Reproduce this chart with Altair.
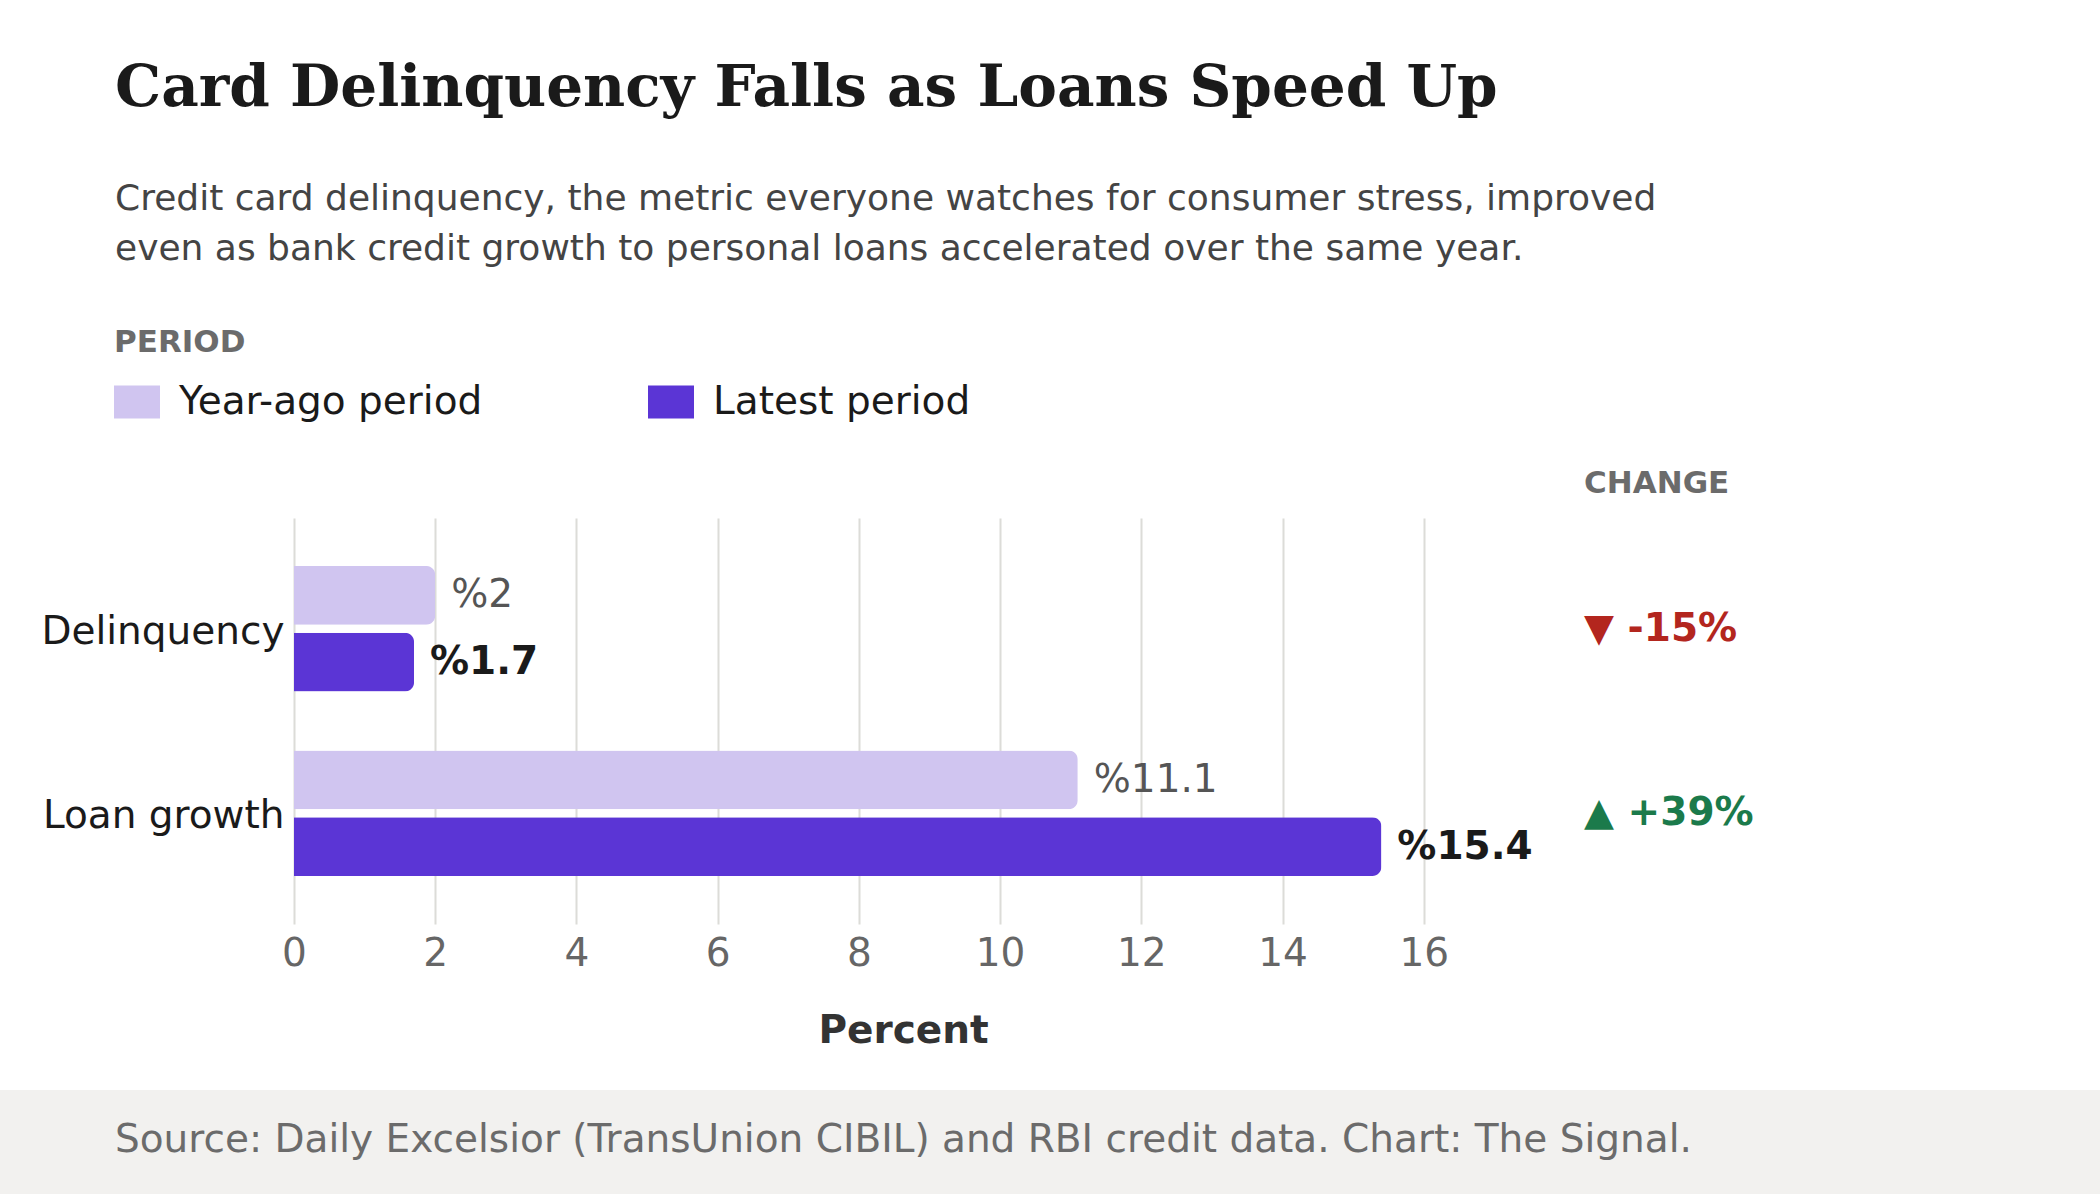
import altair as alt
import pandas as pd

# ---- data ----
categories = ["Delinquency", "Loan growth"]
periods = ["Year-ago period", "Latest period"]
year_ago = [2.0, 11.1]
latest = [1.7, 15.4]
value_labels_year_ago = ["%2", "%11.1"]
value_labels_latest = ["%1.7", "%15.4"]
change_labels = ["▼ -15%", "▲ +39%"]
change_colors = ["#b3261e", "#1b7a4b"]
x_ticks = [0, 2, 4, 6, 8, 10, 12, 14, 16]

TITLE = "Card Delinquency Falls as Loans Speed Up"
SUBTITLE = [
    "Credit card delinquency, the metric everyone watches for consumer stress, improved",
    "even as bank credit growth to personal loans accelerated over the same year.",
]
SOURCE = "Source: Daily Excelsior (TransUnion CIBIL) and RBI credit data. Chart: The Signal."

rows = []
for i, c in enumerate(categories):
    rows.append({"category": c, "period": periods[0], "value": year_ago[i], "label": value_labels_year_ago[i]})
    rows.append({"category": c, "period": periods[1], "value": latest[i], "label": value_labels_latest[i]})
bars_df = pd.DataFrame(rows)

change_df = pd.DataFrame({"category": categories, "change": change_labels, "color": change_colors})
header_df = pd.DataFrame({"h": ["CHANGE"]})
source_df = pd.DataFrame({"s": [SOURCE]})

PW, PH = 1218, 406
SANS = "DejaVu Sans"

y_enc = alt.Y("category:N", sort=categories, title=None,
              scale=alt.Scale(paddingInner=0.32, paddingOuter=0.26),
              axis=alt.Axis(labelFontSize=39, labelColor="#1a1a1a", labelFont=SANS,
                            labelPadding=10, labelLimit=0, labelOffset=3,
                            ticks=False, domain=False, grid=False))
yoff = alt.YOffset("period:N", sort=periods, scale=alt.Scale(paddingInner=0.12, paddingOuter=0))
x_enc = alt.X("value:Q", title="Percent",
              scale=alt.Scale(domain=[0, 17.25], nice=False, zero=True),
              axis=alt.Axis(values=x_ticks, format="d", labelFontSize=39, labelColor="#666666",
                            labelFont=SANS, labelPadding=10, labelFlush=False, ticks=False,
                            domain=False, grid=True, gridColor="#dcdcd8", gridWidth=2,
                            titleFontSize=39, titleFont=SANS, titleFontWeight="bold",
                            titleColor="#333333", titlePadding=38))

base = alt.Chart(bars_df)

bars = base.mark_bar(cornerRadiusEnd=9).encode(
    x=x_enc,
    y=y_enc,
    yOffset=yoff,
    color=alt.Color("period:N", sort=periods,
                    scale=alt.Scale(domain=periods, range=["#d0c5f0", "#5b35d5"]),
                    legend=alt.Legend(
                        title="PERIOD", orient="none", legendX=-180, legendY=-190,
                        direction="horizontal", titleFont=SANS, titleFontSize=31,
                        titleFontWeight="bold", titleColor="#6b6b6b", titlePadding=20,
                        titleAnchor="start", titleLimit=0,
                        labelFont=SANS, labelFontSize=39, labelColor="#1a1a1a", labelLimit=0,
                        labelOffset=19, columnPadding=165, padding=0,
                        symbolType="M-1,-0.717L1,-0.717L1,0.717L-1,0.717Z",
                        symbolSize=2116, symbolStrokeWidth=0, symbolOpacity=1)),
)

lab_old = base.transform_filter(alt.datum.period == periods[0]).mark_text(
    align="left", baseline="middle", dx=16, fontSize=39, font=SANS, color="#555555"
).encode(x="value:Q", y=alt.Y("category:N", sort=categories), yOffset=yoff, text="label:N")

lab_new = base.transform_filter(alt.datum.period == periods[1]).mark_text(
    align="left", baseline="middle", dx=16, fontSize=39, font=SANS, fontWeight="bold", color="#1a1a1a"
).encode(x="value:Q", y=alt.Y("category:N", sort=categories), yOffset=yoff, text="label:N")

chg = alt.Chart(change_df).mark_text(
    align="left", baseline="middle", fontSize=39, font=SANS, fontWeight="bold"
).encode(x=alt.value(1290), y=alt.Y("category:N", sort=categories),
         text="change:N", color=alt.Color("color:N", scale=None))

hdr = alt.Chart(header_df).mark_text(
    align="left", baseline="alphabetic", fontSize=31, font=SANS, fontWeight="bold", color="#6b6b6b"
).encode(x=alt.value(1290), y=alt.value(-25), text="h:N")

footer_bg = alt.Chart(source_df).mark_rect(color="#f2f1ef").encode(
    x=alt.value(-294), x2=alt.value(1806), y=alt.value(572), y2=alt.value(700))

footer_txt = alt.Chart(source_df).mark_text(
    align="left", baseline="middle", fontSize=39, font=SANS, color="#6b6b6b"
).encode(x=alt.value(-179), y=alt.value(622), text="s:N")

chart = alt.layer(footer_bg, bars, lab_old, lab_new, chg, hdr, footer_txt).properties(
    width=PW, height=PH,
    padding={"left": 294, "top": 518, "right": 2100 - 294 - PW, "bottom": 1194 - 518 - PH},
    autosize=alt.AutoSizeParams(type="none"),
    background="white",
    title=alt.TitleParams(
        text=TITLE, subtitle=SUBTITLE, anchor="start", frame="group", dx=-179,
        font="DejaVu Serif", fontSize=58, fontWeight="bold", color="#1a1a1a",
        subtitleFont=SANS, subtitleFontSize=36, subtitleColor="#444444",
        subtitleLineHeight=50, subtitlePadding=64, offset=61,
    ),
).configure_view(stroke=None)

chart.save("out.html", embed_options={"renderer": "svg", "actions": False})
